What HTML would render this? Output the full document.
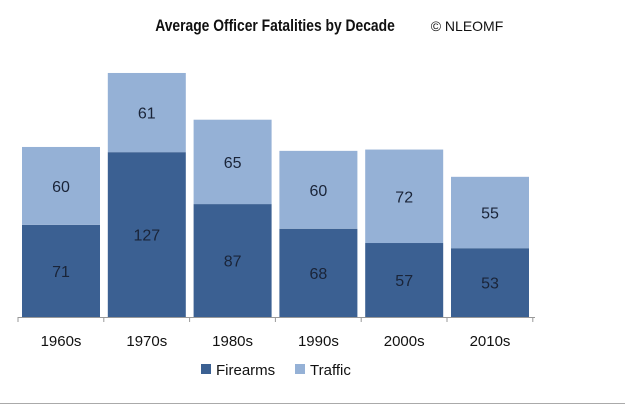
<!DOCTYPE html>
<html><head><meta charset="utf-8"><style>
body{margin:0;background:#fff;}
svg{display:block;font-family:"Liberation Sans",sans-serif;}
</style></head><body>
<svg width="625" height="407">
<text x="275" y="31" text-anchor="middle" font-size="16.5" font-weight="bold" fill="#111" transform="translate(275,0) scale(0.84,1) translate(-275,0)">Average Officer Fatalities by Decade</text>
<text x="467" y="31" text-anchor="middle" font-size="14" fill="#111">© NLEOMF</text>
<g id="bars"></g>
<line x1="18" y1="317.5" x2="535" y2="317.5" stroke="#999"/>
<g id="ticks"></g>
<rect x="201" y="364" width="10" height="10" fill="#3b6092"/>
<text x="216" y="375" font-size="15" fill="#111">Firearms</text>
<rect x="295" y="364" width="10" height="10" fill="#95b1d6"/>
<text x="310" y="375" font-size="15" fill="#111">Traffic</text>
<line x1="0" y1="403.5" x2="625" y2="403.5" stroke="#aaa"/>
</svg>
<script>
const categories=["1960s","1970s","1980s","1990s","2000s","2010s"];
const firearms=[71,127,87,68,57,53];
const traffic=[60,61,65,60,72,55];
const base=317, scale=1.298, x0=22, step=85.8, bw=78;
const NS="http://www.w3.org/2000/svg";
const g=document.getElementById('bars'), tg=document.getElementById('ticks');
function y(v){return base-v*scale;}
function mk(tag,attrs,parent){const e=document.createElementNS(NS,tag);for(const k in attrs)e.setAttribute(k,attrs[k]);parent.appendChild(e);return e;}
categories.forEach((c,i)=>{
  const x=x0+i*step;
  const f=firearms[i], t=traffic[i];
  const r1=mk('rect',{x:x,y:y(f),width:bw,height:f*scale,fill:'#3b6092'},g);
  
  
  const r2=mk('rect',{x:x,y:y(f+t),width:bw,height:t*scale,fill:'#95b1d6'},g);
  
  
  const l1=mk('text',{x:x+bw/2,y:y(f/2)+6,'text-anchor':'middle','font-size':16,fill:'#1a2438'},g);
  l1.textContent=f;
  
  
  const l2=mk('text',{x:x+bw/2,y:y(f+t/2)+6,'text-anchor':'middle','font-size':16,fill:'#1a2438'},g);
  l2.textContent=t;
  
  
  const lb=mk('text',{x:x+bw/2,y:346,'text-anchor':'middle','font-size':15,fill:'#111'},tg);
  lb.textContent=c;
  
  
});
for(let i=0;i<=categories.length;i++){
  const tx=18+i*step;
  const tk=mk('line',{x1:tx,y1:317,x2:tx,y2:322,stroke:'#999'},tg);
  
  
}
</script>
</body></html>
